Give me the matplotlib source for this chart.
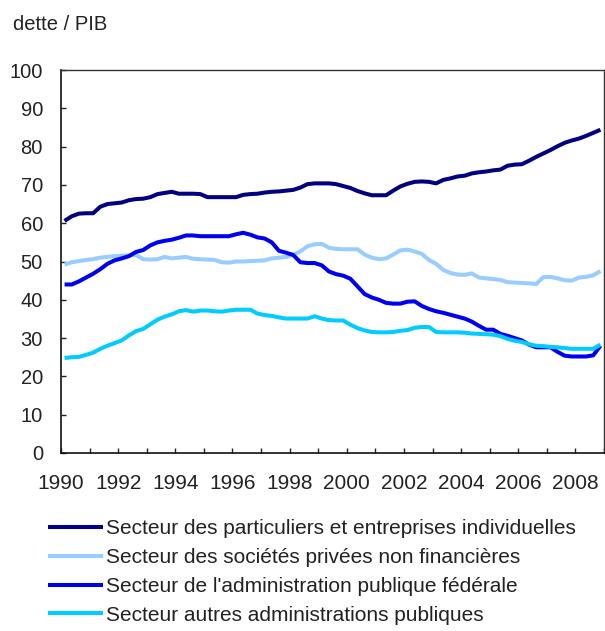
import numpy as np
import matplotlib
matplotlib.use("Agg")
import matplotlib.pyplot as plt

plt.rcParams['font.family'] = ['Liberation Sans', 'DejaVu Sans']

# ratio dette / PIB, données trimestrielles 1990T1 - 2008T4
particuliers = [
    60.6, 61.8, 62.5, 62.6, 62.6, 64.3, 65.0, 65.2, 65.4, 66.0, 66.3, 66.4,
    66.8, 67.6, 67.9, 68.2, 67.7, 67.7, 67.7, 67.6, 66.8, 66.8, 66.8, 66.8,
    66.8, 67.4, 67.6, 67.7, 68.0, 68.2, 68.3, 68.5, 68.7, 69.3, 70.2, 70.4,
    70.4, 70.4, 70.2, 69.7, 69.2, 68.4, 67.8, 67.3, 67.3, 67.3, 68.5, 69.6,
    70.3, 70.8, 70.9, 70.8, 70.4, 71.3, 71.7, 72.2, 72.4, 73.0, 73.3, 73.5,
    73.8, 74.0, 75.0, 75.3, 75.4, 76.3, 77.3, 78.2, 79.1, 80.1, 81.0, 81.6,
    82.1, 82.8, 83.6, 84.4,
]
societes = [
    49.2, 49.8, 50.1, 50.4, 50.6, 51.0, 51.2, 51.4, 51.5, 51.6, 51.7, 50.6,
    50.5, 50.6, 51.2, 50.8, 51.0, 51.2, 50.7, 50.6, 50.5, 50.4, 49.8, 49.7,
    50.0, 50.0, 50.1, 50.2, 50.3, 50.8, 51.0, 51.2, 51.8, 52.6, 54.0, 54.5,
    54.6, 53.6, 53.3, 53.2, 53.2, 53.2, 51.8, 51.0, 50.6, 50.8, 51.8, 52.9,
    53.1, 52.6, 52.0, 50.4, 49.4, 47.8, 47.0, 46.6, 46.5, 46.9, 45.8, 45.6,
    45.4, 45.2, 44.6, 44.5, 44.4, 44.3, 44.1, 45.9, 46.0, 45.6, 45.1, 45.0,
    45.8, 46.0, 46.4, 47.5,
]
federal = [
    44.0, 44.0, 44.8, 45.8, 46.8, 48.0, 49.4, 50.3, 50.8, 51.4, 52.5, 53.0,
    54.2, 55.0, 55.4, 55.7, 56.2, 56.8, 56.8, 56.6, 56.6, 56.6, 56.6, 56.6,
    57.1, 57.5, 57.0, 56.3, 56.0, 55.0, 52.8, 52.3, 51.7, 49.8, 49.6, 49.6,
    49.0, 47.4, 46.7, 46.3, 45.5, 43.5, 41.5, 40.6, 40.0, 39.2, 39.0, 39.0,
    39.5, 39.6, 38.4, 37.6, 37.0, 36.6, 36.1, 35.6, 35.1, 34.3, 33.2, 32.2,
    32.2, 31.1, 30.6, 30.0, 29.4, 28.3, 27.6, 27.6, 27.6, 26.4, 25.4, 25.2,
    25.2, 25.2, 25.5, 28.0,
]
autres_admin = [
    24.8, 25.0, 25.1, 25.6, 26.2, 27.2, 28.0, 28.7, 29.4, 30.7, 31.8, 32.4,
    33.6, 34.8, 35.6, 36.2, 37.0, 37.3, 36.9, 37.2, 37.2, 37.0, 36.9, 37.2,
    37.4, 37.4, 37.4, 36.4, 36.0, 35.8, 35.4, 35.1, 35.1, 35.1, 35.1, 35.7,
    35.1, 34.7, 34.6, 34.6, 33.5, 32.6, 32.0, 31.6, 31.5, 31.5, 31.6, 31.9,
    32.1, 32.7, 32.9, 32.9, 31.6, 31.5, 31.5, 31.5, 31.4, 31.2, 31.1, 31.0,
    30.9, 30.5, 29.8, 29.3, 29.0, 28.4, 28.0, 27.9, 27.7, 27.6, 27.4, 27.2,
    27.2, 27.2, 27.2, 28.3,
]

series = [
    ("Secteur des particuliers et entreprises individuelles", particuliers, "#000080"),
    ("Secteur des sociétés privées non financières", societes, "#99CCFF"),
    ("Secteur de l'administration publique fédérale", federal, "#0000F0"),
    ("Secteur autres administrations publiques", autres_admin, "#00CCFF"),
]

# milieu de chaque trimestre
t = 1990 + (np.arange(len(particuliers)) + 0.5) / 4

fig = plt.figure(figsize=(6.05, 6.31), dpi=100)
ax = fig.add_axes([61 / 605, 1 - 453 / 631, 543 / 605, 383 / 631])

for label, vals, color in series:
    ax.plot(t, vals, color=color, lw=2.9, label=label, solid_capstyle='butt')

ax.set_xlim(1990, 2009)
ax.set_ylim(0, 100)
ax.set_yticks(range(0, 101, 10))
years = list(range(1990, 2010))
ax.set_xticks(years)
ax.set_xticklabels([str(y) if (y % 2 == 0 and y < 2009) else "" for y in years])

ax.tick_params(axis='y', direction='in', length=3.5, width=1, pad=13,
               labelsize=14.5, colors='#222222', left=True, right=False)
ax.tick_params(axis='x', direction='in', length=3.5, width=1, pad=15,
               labelsize=15, colors='#222222', top=False)
for side in ['left', 'bottom']:
    ax.spines[side].set_linewidth(1.2)
    ax.spines[side].set_color('#111111')
for side in ['top', 'right']:
    ax.spines[side].set_linewidth(1.0)
    ax.spines[side].set_color('#333333')

fig.text(13 / 605, 1 - 30 / 631, "dette / PIB", fontsize=14.5,
         color='#222222', va='baseline', ha='left')

fig.legend(loc='upper left', bbox_to_anchor=(40 / 605, 1 - 511 / 631),
           frameon=False, fontsize=15, handlelength=2.6, handletextpad=0.15,
           labelspacing=0.47, borderaxespad=0, labelcolor='#222222')

fig.savefig("out.png", dpi=100)
plt.close(fig)
